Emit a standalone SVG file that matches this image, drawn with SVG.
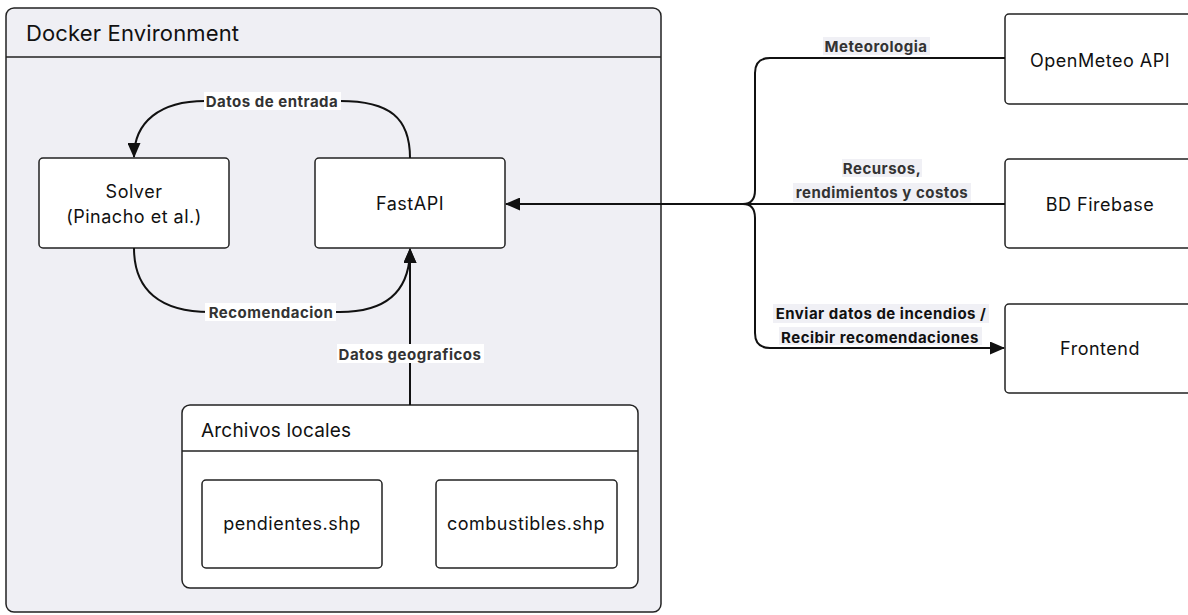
<svg xmlns="http://www.w3.org/2000/svg" width="1188" height="615" viewBox="0 0 1188 615">
<style>
.box{fill:#ffffff;stroke:#222;stroke-width:1.5}
.grp{fill:#efeff4;stroke:#222;stroke-width:1.5}
.lbl{font-family:Inter,"Liberation Sans",sans-serif;font-size:18px;letter-spacing:0.5px;fill:#111;text-anchor:middle;dominant-baseline:central}
.ttl{font-family:Inter,"Liberation Sans",sans-serif;fill:#111;dominant-baseline:central}
.el{font-family:Inter,"Liberation Sans",sans-serif;font-size:15px;letter-spacing:0.5px;font-weight:bold;fill:#333;text-anchor:middle;dominant-baseline:central}
.edge{fill:none;stroke:#111;stroke-width:2}
.bgw{fill:#ffffff}
.bgg{fill:#f0f0f5}
</style>
<defs>
<marker id="arr" markerWidth="15" markerHeight="13" refX="14" refY="6.5" orient="auto" markerUnits="userSpaceOnUse">
<path d="M0,0 L15,6.5 L0,13 Z" fill="#111"/>
</marker>
</defs>
<g id="docker">
<rect class="grp" x="6" y="8" width="655" height="604" rx="8"/>
<line x1="6" y1="57" x2="661" y2="57" stroke="#222" stroke-width="1.5"/>
<text class="ttl" x="26" y="33" font-size="22" letter-spacing="0.15">Docker Environment</text>
</g>
<g id="solver">
<rect class="box" x="39" y="158" width="190" height="90" rx="4"/>
<text class="lbl" x="134" y="191">Solver</text>
<text class="lbl" x="134" y="216">(Pinacho et al.)</text>
</g>
<g id="fastapi">
<rect class="box" x="315" y="158" width="190" height="90" rx="4"/>
<text class="lbl" x="410" y="203">FastAPI</text>
</g>
<g id="archivos">
<rect class="box" x="182" y="405" width="456" height="183" rx="8"/>
<line x1="182" y1="451" x2="638" y2="451" stroke="#222" stroke-width="1.5"/>
<text class="ttl" x="201" y="430" font-size="19" letter-spacing="0.2">Archivos locales</text>
</g>
<g id="pendientes">
<rect class="box" x="202" y="480" width="180" height="88" rx="4"/>
<text class="lbl" x="292" y="523">pendientes.shp</text>
</g>
<g id="combustibles">
<rect class="box" x="436" y="480" width="181" height="88" rx="4"/>
<text class="lbl" x="526" y="523">combustibles.shp</text>
</g>
<g id="openmeteo">
<rect class="box" x="1005" y="14" width="190" height="90" rx="4"/>
<text class="lbl" x="1100" y="60">OpenMeteo API</text>
</g>
<g id="firebase">
<rect class="box" x="1005" y="159" width="190" height="89" rx="4"/>
<text class="lbl" x="1100" y="204">BD Firebase</text>
</g>
<g id="frontend">
<rect class="box" x="1005" y="304" width="190" height="89" rx="4"/>
<text class="lbl" x="1100" y="348">Frontend</text>
</g>
<g id="connectors">
<path class="edge" d="M410,158 C410,118 390,101 340,101 L205,101 C160,101 134,122 134,157" marker-end="url(#arr)"/>
<path class="edge" d="M134,248 C134,290 160,312 210,312 L340,312 C385,312 410,292 410,249" marker-end="url(#arr)"/>
<path class="edge" d="M410,405 L410,249" marker-end="url(#arr)" stroke-width="2.5"/>
<path class="edge" d="M1005,58 L770,58 Q755,58 755,73 L755,190 Q755,204 743,204"/>
<path class="edge" d="M1005,204 L743,204"/>
<path class="edge" d="M743,204 L506,204" marker-end="url(#arr)"/>
<path class="edge" d="M743,204 Q755,204 755,218 L755,333 Q755,348 770,348 L1004,348" marker-end="url(#arr)"/>
<rect class="bgw" x="204" y="92" width="137" height="18"/>
<text class="el" x="272" y="101">Datos de entrada</text>
<rect class="bgw" x="205" y="303" width="131" height="18"/>
<text class="el" x="271" y="312">Recomendacion</text>
<rect class="bgw" x="337" y="344" width="147" height="19"/>
<text class="el" x="410" y="354">Datos geograficos</text>
<rect class="bgg" x="823" y="37" width="107" height="18"/>
<text class="el" x="876" y="46">Meteorologia</text>
<rect class="bgg" x="842" y="159" width="80" height="18"/>
<rect class="bgg" x="793" y="183" width="178" height="19"/>
<text class="el" x="882" y="168">Recursos,</text>
<text class="el" x="882" y="192">rendimientos y costos</text>
<rect class="bgg" x="773" y="304" width="216" height="19"/>
<rect class="bgg" x="779" y="327" width="203" height="18"/>
<text class="el" x="881" y="313" style="fill:#111">Enviar datos de incendios /</text>
<text class="el" x="880" y="337" style="fill:#111">Recibir recomendaciones</text>
</g>
</svg>
